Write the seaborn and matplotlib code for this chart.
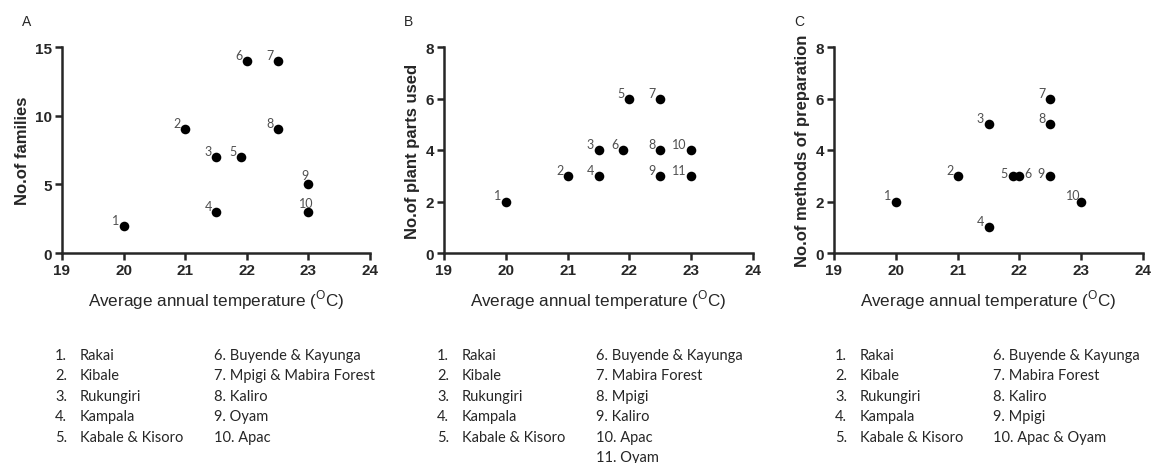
import matplotlib
matplotlib.use("Agg")
import matplotlib.pyplot as plt
import seaborn as sns
import pandas as pd

# %% data
temp_a = [20, 21, 21.5, 21.5, 21.9, 22, 22.5, 22.5, 23, 23]
families = [2, 9, 7, 3, 7, 14, 14, 9, 5, 3]
sites_a = ["Rakai", "Kibale", "Rukungiri", "Kampala", "Kabale & Kisoro",
           "Buyende & Kayunga", "Mpigi & Mabira Forest", "Kaliro", "Oyam", "Apac"]

temp_b = [20, 21, 21.5, 21.5, 22, 21.9, 22.5, 22.5, 22.5, 23, 23]
plant_parts = [2, 3, 4, 3, 6, 4, 6, 4, 3, 4, 3]
sites_b = ["Rakai", "Kibale", "Rukungiri", "Kampala", "Kabale & Kisoro",
           "Buyende & Kayunga", "Mabira Forest", "Mpigi", "Kaliro", "Apac", "Oyam"]

temp_c = [20, 21, 21.5, 21.5, 21.9, 22, 22.5, 22.5, 22.5, 23]
methods = [2, 3, 5, 1, 3, 3, 6, 5, 3, 2]
sites_c = ["Rakai", "Kibale", "Rukungiri", "Kampala", "Kabale & Kisoro",
           "Buyende & Kayunga", "Mabira Forest", "Kaliro", "Mpigi", "Apac & Oyam"]

# %% style
sns.set_style("ticks")
plt.rcParams["font.family"] = ["Liberation Sans", "DejaVu Sans"]
plt.rcParams["mathtext.fontset"] = "custom"
plt.rcParams["mathtext.rm"] = "Liberation Sans"

fig = plt.figure(figsize=(11.52, 4.64), dpi=100)
W, H = 1152, 464


def px_axes(x0, x1, y0, y1):
    return fig.add_axes([x0 / W, 1 - y1 / H, (x1 - x0) / W, (y1 - y0) / H])


# label offsets in pixels (dx, dy) relative to each point
default_off = (-8, 6)
offsets_a = {9: (-3, 9), 10: (-2, 9)}
offsets_b = {10: (-12, 6), 11: (-12, 6)}
offsets_c = {6: (9, 3), 5: (-9, 3), 9: (-9, 3), 10: (-8, 6)}

panels = [
    ("A", temp_a, families, sites_a, "No.of families", 15, [0, 5, 10, 15], offsets_a,
     (62, 370), (55, 214)),
    ("B", temp_b, plant_parts, sites_b, "No.of plant parts used", 8, [0, 2, 4, 6, 8], offsets_b,
     (444, 753), (437, 596)),
    ("C", temp_c, methods, sites_c, "No.of methods of preparation", 8, [0, 2, 4, 6, 8], offsets_c,
     (834, 1143), (835, 993)),
]

key_font = dict(fontsize=10.5, va="center", family=["Lato", "DejaVu Sans"])

for letter, xs, ys, sites, ylab, ymax, yticks, offs, (x0, x1), (k1, k2) in panels:
    ax = px_axes(x0, x1, 48, 254)
    df = pd.DataFrame({"x": xs, "y": ys, "n": range(1, len(xs) + 1)})
    sns.scatterplot(data=df, x="x", y="y", ax=ax, color="black", s=48,
                    edgecolor="black", linewidth=0, clip_on=False, zorder=3)
    for _, r in df.iterrows():
        dx, dy = offs.get(int(r["n"]), default_off)
        ax.annotate(str(int(r["n"])), (r["x"], r["y"]), xytext=(dx, dy),
                    textcoords="offset pixels", ha="center", va="center",
                    fontsize=9, color="#505050", family="Lato")
    ax.set_xlim(19, 24)
    ax.set_ylim(0, ymax)
    ax.set_xticks([19, 20, 21, 22, 23, 24])
    ax.set_yticks(yticks)
    sns.despine(ax=ax)
    for s in ["left", "bottom"]:
        ax.spines[s].set_linewidth(1.8)
    ax.tick_params(width=1.8, length=5, labelsize=11, pad=2)
    for t in ax.get_xticklabels() + ax.get_yticklabels():
        t.set_fontweight("bold")
    ax.set_xlabel(r"Average annual temperature ($^{\rm O}$C)", fontsize=12.3, labelpad=8)
    ax.set_ylabel(ylab, fontsize=12, fontweight="bold", labelpad=4)

    # panel letter
    fig.text((x0 - 40) / W, 1 - 22 / H, letter, fontsize=10, va="center", ha="left")

    # site key below the panel
    for i, name in enumerate(sites):
        n = i + 1
        if n <= 5:
            y = 1 - (356 + 20.4 * i) / H
            fig.text(k1 / W, y, f"{n}.", **key_font)
            fig.text((k1 + 25) / W, y, name, **key_font)
        else:
            y = 1 - (356 + 20.4 * (i - 5)) / H
            fig.text(k2 / W, y, f"{n}. {name}", **key_font)

fig.savefig("out.png", dpi=100)
